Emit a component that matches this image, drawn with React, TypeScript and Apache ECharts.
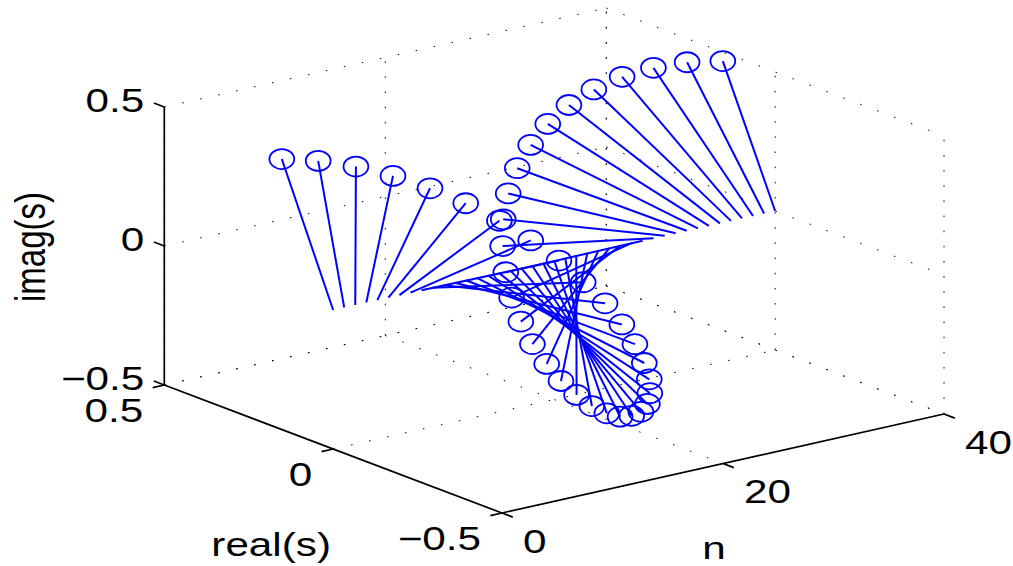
import React, { useEffect, useRef } from "react";
import * as echarts from "echarts";

// Samples
const sampleIndex = [
  0, 1, 2, 3, 4, 5, 6, 7, 8, 9, 10, 11, 12, 13, 14, 15, 16, 17, 18, 19, 20,
  21, 22, 23, 24, 25, 26, 27, 28, 29, 30, 31, 32, 33, 34, 35, 36, 37, 38, 39, 40,
];
const realValues = [
  0.152, 0.077, -0.002, -0.079, -0.156, -0.229, -0.296, -0.356, -0.407, -0.446,
  -0.478, -0.495, -0.501, -0.496, -0.478, -0.447, -0.407, -0.355, -0.295, -0.228,
  -0.156, -0.079, -0.001, 0.078, 0.153, 0.228, 0.295, 0.355, 0.405, 0.447,
  0.478, 0.496, 0.502, 0.495, 0.477, 0.447, 0.406, 0.355, 0.295, 0.228, 0.155,
];
const imagValues = [
  0.473, 0.492, 0.499, 0.492, 0.474, 0.445, 0.404, 0.352, 0.294, 0.225,
  0.155, 0.078, 0.001, -0.078, -0.154, -0.227, -0.293, -0.354, -0.405, -0.448,
  -0.478, -0.496, -0.501, -0.496, -0.478, -0.45, -0.409, -0.359, -0.3, -0.234,
  -0.161, -0.085, -0.006, 0.072, 0.147, 0.22, 0.286, 0.346, 0.397, 0.439, 0.468,
];

const nTicks = [0, 20, 40];
const realTicks = [0.5, 0, -0.5];
const imagTicks = [0.5, 0, -0.5];
const nTickLabels = ["0", "20", "40"];
const realTickLabels = ["0.5", "0", "\u22120.5"];
const imagTickLabels = ["0.5", "0", "\u22120.5"];

// Orthographic view of the 3-D box onto the axis pixel scale
const NMIN = 0;
const NMAX = 40;
const RMIN = -0.5;
const RMAX = 0.5;
const ZMIN = -0.5;
const ZMAX = 0.5;
const project = (n: number, r: number, z: number): [number, number] => [
  164.3 + 11.05 * n - 337.7 * (r - RMAX),
  385 - 2.475 * n - 128 * (r - RMAX) - 278 * (z - ZMIN),
];

const BLUE = "#0000ff";
const FONT = "Liberation Sans";
const FONT_SIZE = 33;
const STRETCH = 1.28;

type Seg = number[];
const KIND_SOLID = 0;
const KIND_DOT_LONG = 1;
const KIND_DOT_WALL = 2;
const KIND_DOT_UP = 3;

const segments: Seg[] = [];
const add = (a: number[], b: number[], kind: number) => segments.push([...a, ...b, kind]);
// left wall (real = max)
imagTicks.forEach((z) => add([NMIN, RMAX, z], [NMAX, RMAX, z], KIND_DOT_LONG));
nTicks.forEach((n) => add([n, RMAX, ZMIN], [n, RMAX, ZMAX], KIND_DOT_UP));
// right wall (n = max)
imagTicks.forEach((z) => add([NMAX, RMAX, z], [NMAX, RMIN, z], KIND_DOT_WALL));
realTicks.forEach((r) => add([NMAX, r, ZMIN], [NMAX, r, ZMAX], KIND_DOT_UP));
// floor
realTicks.forEach((r) => add([NMIN, r, ZMIN], [NMAX, r, ZMIN], KIND_DOT_LONG));
nTicks.forEach((n) => add([n, RMAX, ZMIN], [n, RMIN, ZMIN], KIND_DOT_WALL));
// solid axes
add([NMIN, RMAX, ZMIN], [NMIN, RMAX, ZMAX], KIND_SOLID);
add([NMIN, RMAX, ZMIN], [NMIN, RMIN, ZMIN], KIND_SOLID);
add([NMIN, RMIN, ZMIN], [NMAX, RMIN, ZMIN], KIND_SOLID);
// tick marks
imagTicks.forEach((z) => add([NMIN, RMAX, z], [NMIN, RMAX + 0.031, z], KIND_SOLID));
realTicks.forEach((r) => add([NMIN, r, ZMIN], [NMIN - 1.05, r, ZMIN], KIND_SOLID));
nTicks.forEach((n) => add([n, RMIN, ZMIN], [n, RMIN - 0.032, ZMIN], KIND_SOLID));

const segStyle = (kind: number) => {
  if (kind === KIND_SOLID) return { stroke: "#000", lineWidth: 1.7 };
  const dash =
    kind === KIND_DOT_LONG ? [1.5, 16.9] : kind === KIND_DOT_WALL ? [1.5, 16.6] : [1.5, 13.65];
  return { stroke: "#000", lineWidth: 1, lineDash: dash };
};

const textSeries = (
  points: number[][],
  labels: string[],
  dx: number,
  dy: number,
  align: string,
  vertical = false,
  size = FONT_SIZE,
) => ({
  type: "custom",
  coordinateSystem: "cartesian2d",
  silent: true,
  clip: false,
  data: points,
  renderItem: (params: any, api: any) => {
    const [px, py] = project(api.value(0), api.value(1), api.value(2));
    const [x, y] = api.coord([px + dx, py + dy]);
    const stretch = (STRETCH * FONT_SIZE) / size;
    return {
      type: "text",
      x,
      y,
      rotation: vertical ? Math.PI / 2 : 0,
      scaleX: vertical ? 1 : stretch,
      scaleY: vertical ? stretch : 1,
      style: {
        text: labels[params.dataIndex],
        fill: "#000",
        font: `${size}px "${FONT}"`,
        align,
        verticalAlign: "middle",
      },
    };
  },
});

export default function App() {
  const ref = useRef<HTMLDivElement>(null);
  useEffect(() => {
    const chart = echarts.init(ref.current!, undefined, { renderer: "svg" });
    const option: any = {
      animation: false,
      backgroundColor: "#fff",
      grid: { left: 0, right: 0, top: 0, bottom: 0 },
      xAxis: { type: "value", min: 0, max: 1013, show: false },
      yAxis: { type: "value", min: 0, max: 566, inverse: true, show: false },
      series: [
        {
          type: "custom",
          coordinateSystem: "cartesian2d",
          silent: true,
          clip: false,
          data: segments,
          renderItem: (_p: any, api: any) => {
            const a = api.coord(project(api.value(0), api.value(1), api.value(2)));
            const b = api.coord(project(api.value(3), api.value(4), api.value(5)));
            return {
              type: "line",
              shape: { x1: a[0], y1: a[1], x2: b[0], y2: b[1] },
              style: segStyle(api.value(6)),
            };
          },
        },
        {
          type: "custom",
          coordinateSystem: "cartesian2d",
          silent: true,
          clip: false,
          data: sampleIndex.map((n, i) => [n, realValues[i], imagValues[i]]),
          renderItem: (_p: any, api: any) => {
            const n = api.value(0);
            const base = api.coord(project(n, 0, 0));
            const tip = api.coord(project(n, api.value(1), api.value(2)));
            return {
              type: "group",
              children: [
                {
                  type: "line",
                  shape: { x1: base[0], y1: base[1], x2: tip[0], y2: tip[1] },
                  style: { stroke: BLUE, lineWidth: 2 },
                },
                {
                  type: "ellipse",
                  shape: { cx: tip[0], cy: tip[1], rx: 12.4, ry: 10 },
                  style: { fill: "none", stroke: BLUE, lineWidth: 1.8 },
                },
              ],
            };
          },
        },
        textSeries(imagTicks.map((z) => [NMIN, RMAX, z]), imagTickLabels, -20, -6, "right"),
        textSeries(realTicks.map((r) => [NMIN, r, ZMIN]), realTickLabels, -21, 25.5, "right"),
        textSeries(nTicks.map((n) => [n, RMIN, ZMIN]), nTickLabels, 21, 28.5, "left"),
        textSeries([[NMIN, 0, ZMIN]], ["real(s)"], -62, 96, "center"),
        textSeries([[20, RMIN, ZMIN]], ["n"], -9, 85, "center", false, 31),
        textSeries([[NMIN, RMAX, 0]], ["imag(s)"], -134, 1, "center", true),
      ],
    };
    chart.setOption(option);
    return () => chart.dispose();
  }, []);
  return (
    <div
      ref={ref}
      style={{ position: "absolute", left: 0, top: 0, width: 1013, height: 566, background: "#fff" }}
    />
  );
}
